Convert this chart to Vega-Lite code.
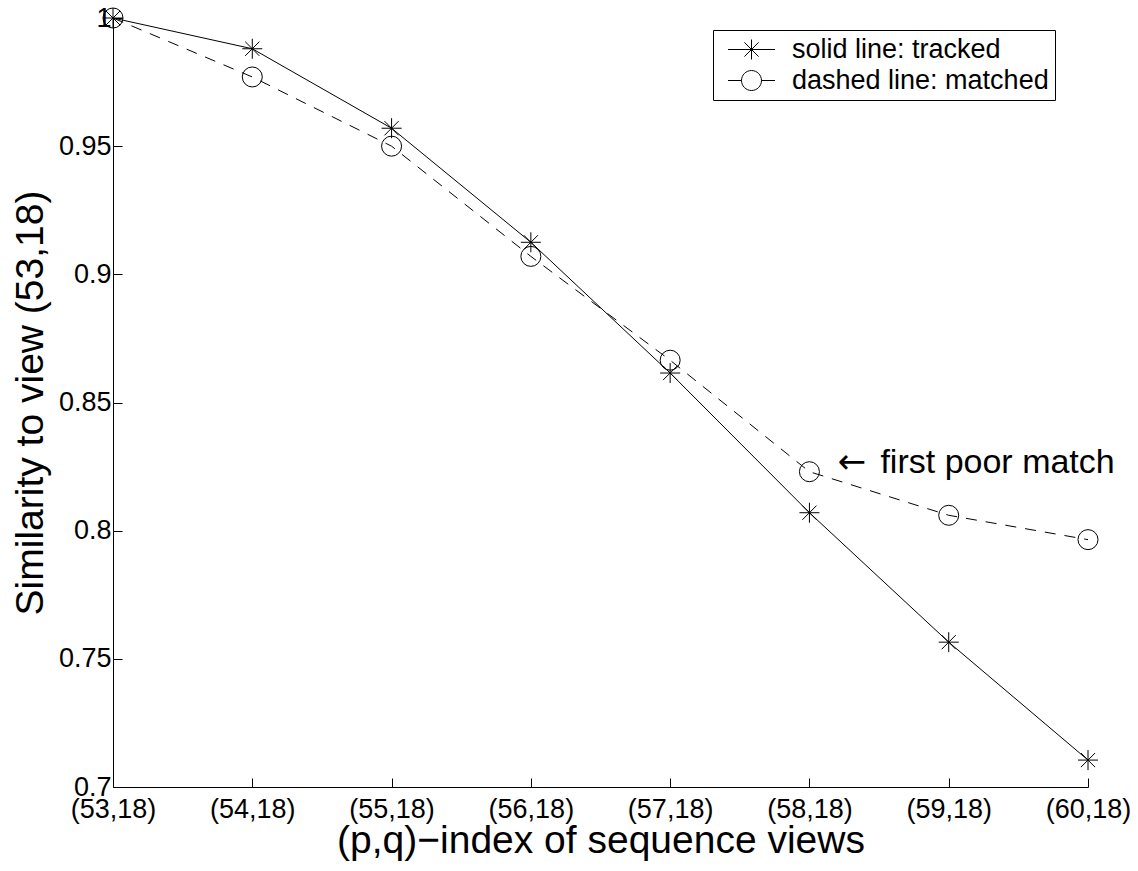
{
  "$schema": "https://vega.github.io/schema/vega-lite/v6.json",
  "width": 975,
  "height": 769,
  "autosize": "none",
  "padding": {"left": 113, "top": 18, "right": 50, "bottom": 84},
  "background": "white",
  "config": {
    "view": {"stroke": null},
    "font": "Liberation Sans",
    "axis": {
      "grid": false,
      "domainColor": "black",
      "domainWidth": 1,
      "tickColor": "black",
      "tickWidth": 1,
      "tickSize": -9,
      "labelColor": "black",
      "labelFont": "Liberation Sans",
      "labelFontSize": 27,
      "titleColor": "black",
      "titleFont": "Liberation Sans",
      "titleFontSize": 39,
      "titleFontWeight": "normal",
      "labelFlush": false,
      "labelOverlap": false
    }
  },
  "resolve": {"scale": {"shape": "independent"}, "legend": {"shape": "independent"}},
  "datasets": {
    "series": [
      {"view": "(53,18)", "similarity": 1.0, "series": "tracked"},
      {"view": "(54,18)", "similarity": 0.988, "series": "tracked"},
      {"view": "(55,18)", "similarity": 0.957, "series": "tracked"},
      {"view": "(56,18)", "similarity": 0.9125, "series": "tracked"},
      {"view": "(57,18)", "similarity": 0.8615, "series": "tracked"},
      {"view": "(58,18)", "similarity": 0.807, "series": "tracked"},
      {"view": "(59,18)", "similarity": 0.7565, "series": "tracked"},
      {"view": "(60,18)", "similarity": 0.7105, "series": "tracked"},
      {"view": "(53,18)", "similarity": 1.0, "series": "matched"},
      {"view": "(54,18)", "similarity": 0.977, "series": "matched"},
      {"view": "(55,18)", "similarity": 0.95, "series": "matched"},
      {"view": "(56,18)", "similarity": 0.907, "series": "matched"},
      {"view": "(57,18)", "similarity": 0.8665, "series": "matched"},
      {"view": "(58,18)", "similarity": 0.823, "series": "matched"},
      {"view": "(59,18)", "similarity": 0.806, "series": "matched"},
      {"view": "(60,18)", "similarity": 0.7965, "series": "matched"}
    ],
    "note": [
      {"view": "(58,18)", "similarity": 0.823, "arrow": "←", "label": "first poor match"}
    ]
  },
  "encoding": {
    "x": {
      "field": "view",
      "type": "ordinal",
      "scale": {"type": "point", "padding": 0, "domain": ["(53,18)", "(54,18)", "(55,18)", "(56,18)", "(57,18)", "(58,18)", "(59,18)", "(60,18)"]},
      "axis": {"title": "(p,q)−index of sequence views", "labelAngle": 0, "labelPadding": 18, "titlePadding": -1}
    },
    "y": {
      "field": "similarity",
      "type": "quantitative",
      "scale": {"domain": [0.7, 1], "nice": false, "zero": false},
      "axis": {"title": "Similarity to view (53,18)", "values": [0.7, 0.75, 0.8, 0.85, 0.9, 0.95, 1], "format": ".2~f", "labelPadding": 11, "titlePadding": 8}
    }
  },
  "layer": [
    {
      "data": {"name": "series"},
      "transform": [{"filter": "datum.series === 'tracked'"}],
      "mark": {"type": "line", "stroke": "black", "strokeWidth": 1},
      "encoding": {}
    },
    {
      "data": {"name": "series"},
      "transform": [{"filter": "datum.series === 'matched'"}],
      "mark": {"type": "line", "stroke": "black", "strokeWidth": 1, "strokeDash": [11, 9]},
      "encoding": {}
    },
    {
      "data": {"name": "series"},
      "mark": {"type": "point", "filled": false, "stroke": "black", "strokeWidth": 1, "size": 400, "opacity": 1},
      "encoding": {
        "shape": {
          "field": "series",
          "type": "nominal",
          "scale": {
            "domain": ["tracked", "matched"],
            "range": ["M-1,0H1M0,-1V1M-0.71,-0.71L0.71,0.71M-0.71,0.71L0.71,-0.71", "circle"]
          },
          "legend": null
        }
      }
    },
    {
      "data": {"name": "series"},
      "transform": [{"filter": "false"}],
      "mark": {"type": "point", "filled": false, "stroke": "black", "strokeWidth": 1, "size": 400, "opacity": 1},
      "encoding": {
        "shape": {
          "field": "series",
          "type": "nominal",
          "scale": {
            "domain": ["tracked", "matched"],
            "range": ["M-2.35,0H2.35M0,-1V1M-0.71,-0.71L0.71,0.71M-0.71,0.71L0.71,-0.71", "M-2.35,0H-1M1,0H2.35M1,0A1,1 0 1,1 -1,0A1,1 0 1,1 1,0"]
          },
          "legend": {
            "title": null,
            "orient": "none",
            "legendX": 600,
            "legendY": 12,
            "strokeColor": "black",
            "fillColor": "white",
            "padding": 6,
            "rowPadding": 3,
            "symbolSize": 400,
            "symbolOffset": 19,
            "symbolStrokeColor": "black",
            "symbolStrokeWidth": 1,
            "symbolFillColor": "transparent",
            "symbolOpacity": 1,
            "labelOffset": 27,
            "labelLimit": 0,
            "labelFont": "Liberation Sans",
            "labelFontSize": 27,
            "labelColor": "black",
            "labelExpr": "datum.value === 'tracked' ? 'solid line: tracked' : 'dashed line: matched'"
          }
        }
      }
    },
    {
      "data": {"name": "note"},
      "mark": {"type": "text", "align": "left", "baseline": "alphabetic", "dx": 28, "dy": 1, "fontSize": 34, "font": "DejaVu Sans", "color": "black"},
      "encoding": {
        "text": {"field": "arrow"}
      }
    },
    {
      "data": {"name": "note"},
      "mark": {"type": "text", "align": "left", "baseline": "alphabetic", "dx": 71, "dy": 1, "fontSize": 34, "font": "Liberation Sans", "color": "black"},
      "encoding": {
        "text": {"field": "label"}
      }
    }
  ]
}
